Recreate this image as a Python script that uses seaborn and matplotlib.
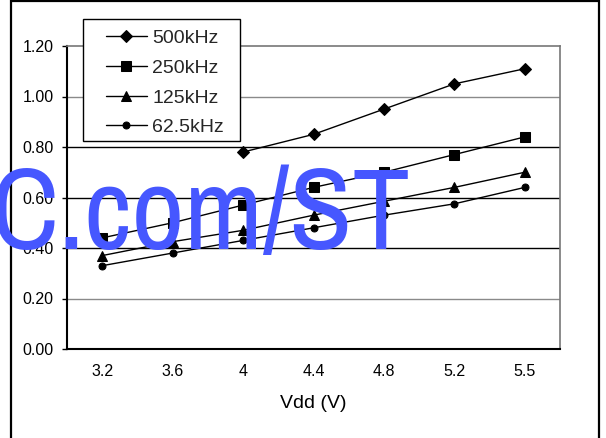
import numpy as np
import pandas as pd
import matplotlib
matplotlib.use("Agg")
import matplotlib.pyplot as plt
from matplotlib.patches import Rectangle
from matplotlib import font_manager
import seaborn as sns

sns.set_theme(style="white")
plt.rcParams["font.family"] = ["Liberation Sans", "DejaVu Sans"]

# data
vdd = ["3.2", "3.6", "4", "4.4", "4.8", "5.2", "5.5"]
f500 = [np.nan, np.nan, 0.78, 0.85, 0.95, 1.05, 1.11]
f250 = [0.44, 0.50, 0.57, 0.64, 0.70, 0.77, 0.84]
f125 = [0.37, 0.425, 0.47, 0.53, 0.585, 0.64, 0.70]
f62 = [0.33, 0.38, 0.43, 0.48, 0.53, 0.575, 0.64]
labels = ["500kHz", "250kHz", "125kHz", "62.5kHz"]
yticks = [0.0, 0.2, 0.4, 0.6, 0.8, 1.0, 1.2]

series = [f500, f250, f125, f62]
markers = ["D", "s", "^", "o"]
msizes = [6.3, 7, 7.5, 5]

fig = plt.figure(figsize=(6.06, 4.38), dpi=100)
ax = fig.add_axes([67 / 606, 1 - 349 / 438, (560 - 67) / 606, (349 - 46) / 438])

# horizontal grid lines, some darker than others as in the scan
grid_cols = {0.2: "#8a8a8a", 0.4: "black", 0.6: "black", 0.8: "black", 1.0: "#8a8a8a"}
for yv, c in grid_cols.items():
    ax.axhline(yv, color=c, lw=1.0, zorder=1)

for vals, lab, mk, ms in zip(series, labels, markers, msizes):
    df = pd.DataFrame({"pos": np.arange(len(vdd)), "val": vals}).dropna()
    sns.lineplot(data=df, x="pos", y="val", ax=ax, color="black", lw=1.0,
                 marker=mk, markersize=ms, markeredgecolor="black",
                 markerfacecolor="black", label=lab, zorder=3)

ax.set_xlim(-0.5, len(vdd) - 0.5)
ax.set_ylim(0, 1.2)
ax.set_xticks(np.arange(len(vdd)))
ax.set_xticklabels(vdd)
ax.set_xticks(np.arange(len(vdd) + 1) - 0.5, minor=True)
ax.set_yticks(yticks)
ax.set_yticklabels([f"{v:.2f}" for v in yticks])
ax.tick_params(axis="x", which="major", length=0, pad=11, labelsize=11.5, colors="black")
ax.tick_params(axis="x", which="minor", length=3.5, width=1, direction="out", color="black")
ax.tick_params(axis="y", length=3.5, width=1, direction="out", pad=6, labelsize=11.5,
               colors="black", left=True)
ax.set_xlabel("Vdd (V)", fontsize=14, labelpad=11, color="black")
ax.set_ylabel("")

for s in ["left", "bottom"]:
    ax.spines[s].set_color("black")
    ax.spines[s].set_linewidth(1.5)
for s in ["top", "right"]:
    ax.spines[s].set_color("#777777")
    ax.spines[s].set_linewidth(1.2)

# legend box: white panel with black border, entries placed inside
legbox = Rectangle((83 / 606, 1 - 141 / 438), 157 / 606, 122 / 438,
                   transform=fig.transFigure, facecolor="white", edgecolor="black",
                   lw=1.0, zorder=4)
fig.add_artist(legbox)
leg = ax.legend(loc="upper left", bbox_to_anchor=(95 / 606, 1 - 19 / 438),
                bbox_transform=fig.transFigure, frameon=False, fontsize=14,
                handlelength=2.1, labelspacing=0.62, borderpad=0.55,
                handletextpad=0.3, borderaxespad=0)
leg.remove()
fig.add_artist(leg)
leg.set_zorder(5)

# watermark
narrow = [f.name for f in font_manager.fontManager.ttflist if "Narrow" in f.name]
if narrow:
    wm_family, wm_size = [narrow[0], "Liberation Sans"], 83
else:
    wm_family, wm_size = ["Liberation Sans"], 73
fig.text(410 / 606, 1 - 249 / 438, "C.com/ST", color="#4657FF", fontsize=wm_size,
         family=wm_family, ha="right", va="baseline", zorder=10)

# outer frame
fig.add_artist(Rectangle((11 / 606, -0.05), (599 - 11) / 606, 1.05 - 1 / 438,
                         transform=fig.transFigure, fill=False, edgecolor="black", lw=1.6))

fig.savefig("out.png", dpi=100)
